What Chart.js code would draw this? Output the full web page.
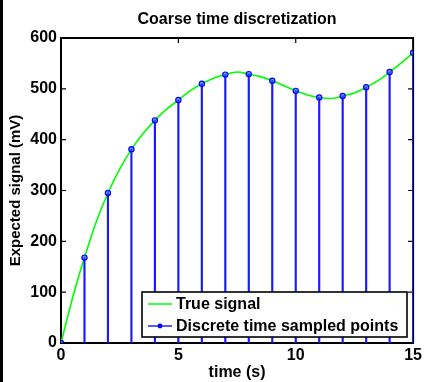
<!DOCTYPE html>
<html>
<head>
<meta charset="utf-8">
<script src="https://cdn.jsdelivr.net/npm/chart.js@4/dist/chart.umd.min.js"></script>
<style>
html,body{margin:0;padding:0;background:#fff;}
#wrap{width:425px;height:382px;position:relative;}
</style>
</head>
<body>
<div id="wrap"><canvas id="c" width="425" height="382"></canvas></div>
<script>
// ---- data ----
const sampleTimes = [0,1,2,3,4,5,6,7,8,9,10,11,12,13,14,15];
const sampleValues = [0,168,295,381,438,478,510,528,529,516,496,483,486,503,533,571];
const trueTimes = [0,0.5,1,1.5,2,2.5,3,3.5,4,4.5,5,5.5,6,6.5,7,7.5,8,8.5,9,9.5,10,10.5,11,11.5,12,12.5,13,13.5,14,14.5,15];
const trueValues = [0,90,168,238,295,342,381,412,438,460,478,496,510,521,528,533,529,524,516,506,496,488,483,481,486,492,503,516,533,551,571];
const xTicks = [0,5,10,15];
const yTicks = [0,100,200,300,400,500,600];
const labels = {title:'Coarse time discretization', x:'time (s)', y:'Expected signal (mV)', line:'True signal', pts:'Discrete time sampled points'};

const FONT = '"Liberation Sans", Arial, Helvetica, sans-serif';
const GREEN = '#00ff00', BLUE = '#0000ff';

const toXY = (xs, ys) => xs.map((x,i)=>({x:x, y:ys[i]}));

const framePlugin = {
  id:'frame',
  afterLayout(chart){
    // centre the title over the plot area, as in the reference
    if (chart.titleBlock) {
      chart.titleBlock.left = chart.chartArea.left;
      chart.titleBlock.right = chart.chartArea.right;
    }
  },
  beforeDraw(chart){
    const ctx = chart.ctx;
    ctx.save();
    ctx.fillStyle = '#fff';
    ctx.fillRect(0,0,chart.width,chart.height);
    ctx.fillStyle = '#000';
    ctx.fillRect(0,0,3,chart.height);
    ctx.restore();
  },
  beforeDatasetsDraw(chart){
    const {ctx, chartArea:a, scales} = chart;
    ctx.save();
    ctx.strokeStyle = '#000';
    ctx.lineWidth = 2;
    ctx.strokeRect(a.left, a.top, a.right-a.left, a.bottom-a.top);
    ctx.lineWidth = 1.2;
    const L = 5;
    ctx.beginPath();
    yTicks.forEach(v=>{
      const y = scales.y.getPixelForValue(v);
      ctx.moveTo(a.left, y); ctx.lineTo(a.left+L, y);
      ctx.moveTo(a.right, y); ctx.lineTo(a.right-L, y);
    });
    xTicks.forEach(v=>{
      const x = scales.x.getPixelForValue(v);
      ctx.moveTo(x, a.bottom); ctx.lineTo(x, a.bottom-L);
      ctx.moveTo(x, a.top); ctx.lineTo(x, a.top+L);
    });
    ctx.stroke();
    ctx.restore();
  },
  afterDatasetsDraw(chart){
    const {ctx} = chart;
    const bx = 142, by = 292, bw = 265, bh = 45;
    ctx.save();
    ctx.fillStyle = '#fff';
    ctx.fillRect(bx, by, bw, bh);
    ctx.strokeStyle = '#000';
    ctx.lineWidth = 1.6;
    ctx.strokeRect(bx, by, bw, bh);
    ctx.font = 'bold 16px ' + FONT;
    ctx.textBaseline = 'middle';
    ctx.textAlign = 'left';
    const ds = chart.data.datasets;
    const y1 = 304, y2 = 326;
    // line entry
    ctx.strokeStyle = ds[0].borderColor; ctx.lineWidth = 1.5;
    ctx.beginPath(); ctx.moveTo(148, y1); ctx.lineTo(172, y1); ctx.stroke();
    ctx.fillStyle = '#000';
    ctx.fillText(ds[0].label, 176, y1+1);
    // stem entry
    ctx.strokeStyle = BLUE; ctx.lineWidth = 1.3;
    ctx.beginPath(); ctx.moveTo(148, y2); ctx.lineTo(172, y2); ctx.stroke();
    ctx.fillStyle = BLUE;
    ctx.beginPath(); ctx.arc(160, y2, 2.4, 0, Math.PI*2); ctx.fill();
    ctx.fillStyle = '#000';
    ctx.fillText(ds[2].label, 176, y2+1);
    ctx.restore();
  }
};

new Chart(document.getElementById('c'), {
  type:'line',
  data:{
    datasets:[
      {type:'line', label:labels.line, data:toXY(trueTimes,trueValues), borderColor:GREEN, borderWidth:1.6,
       pointRadius:0, cubicInterpolationMode:'monotone', fill:false, order:3},
      {type:'bar', label:'stems', data:toXY(sampleTimes,sampleValues), backgroundColor:'#1a1aff', borderWidth:0,
       barThickness:1.5, order:2},
      {type:'line', label:labels.pts, data:toXY(sampleTimes,sampleValues), showLine:false,
       pointRadius:2.6, pointBorderWidth:1.2, pointBorderColor:BLUE, pointBackgroundColor:'rgba(60,90,255,0.6)', order:1}
    ]
  },
  options:{
    responsive:false,
    animation:false,
    events:[],
    layout:{padding:{left:0, right:9, top:0, bottom:0}},
    plugins:{
      legend:{display:false},
      tooltip:{enabled:false},
      title:{display:true, text:labels.title, color:'#000',
             font:{family:FONT, size:16, weight:'bold'}, padding:{top:10, bottom:8.8}}
    },
    scales:{
      x:{type:'linear', min:0, max:15, offset:false,
         grid:{display:false, drawTicks:false, offset:false}, border:{display:false},
         afterBuildTicks: s => { s.ticks = xTicks.map(v=>({value:v})); },
         afterFit: s => { s.height = 39; },
         ticks:{color:'#000', padding:3, maxRotation:0, font:{family:FONT, size:16, weight:'bold'}},
         title:{display:true, text:labels.x, color:'#000', padding:{top:0, bottom:0},
                font:{family:FONT, size:16, weight:'bold'}}},
      y:{type:'linear', min:0, max:600,
         grid:{display:false, drawTicks:false}, border:{display:false},
         afterBuildTicks: s => { s.ticks = yTicks.map(v=>({value:v})); },
         afterFit: s => { s.width = 61; },
         ticks:{color:'#000', padding:4, font:{family:FONT, size:16, weight:'bold'}},
         title:{display:true, text:labels.y, color:'#000', padding:{top:7, bottom:0},
                font:{family:FONT, size:15, weight:'bold'}}}
    }
  },
  plugins:[framePlugin]
});
</script>
</body>
</html>
